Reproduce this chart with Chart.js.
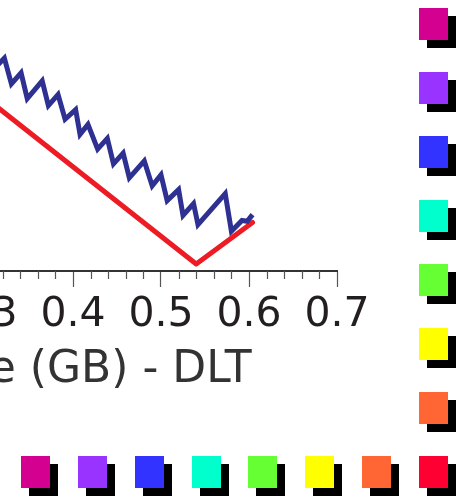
<!DOCTYPE html>
<html>
<head>
<meta charset="utf-8">
<script src="https://cdn.jsdelivr.net/npm/chart.js@4.4.0/dist/chart.umd.min.js"></script>
<style>
    html, body { margin: 0; width: 462px; height: 496px; overflow: hidden; background: #fff; }
    body { position: relative; }
    #wrap { position: absolute; left: 0; top: 0; }
    .key { position: absolute; width: 29px; height: 32px; box-shadow: 8px 8px 0 #000; }
</style>
</head>
<body>
<div id="wrap"><canvas id="myChart" width="696" height="420"></canvas></div>
<script>
// x axis (GB)
const xMin = 0, xMax = 0.7, xStep = 0.1, minorStep = 0.02;

// measured DLT run (zigzag)
const measuredSize = [0.309, 0.322, 0.330, 0.341, 0.348, 0.365, 0.372, 0.383, 0.391, 0.403,
    0.408, 0.417, 0.428, 0.439, 0.446, 0.457, 0.464, 0.481, 0.490, 0.500,
    0.507, 0.520, 0.525, 0.537, 0.542, 0.573, 0.580, 0.592, 0.598, 0.604];
const measuredTime = [74.9, 79.3, 69.7, 73.8, 64.2, 70.8, 61.6, 65.7, 56.5, 60.1,
    50.9, 54.6, 45.4, 49.4, 39.9, 43.9, 34.7, 41.0, 31.7, 35.8,
    26.2, 30.3, 20.7, 25.1, 17.3, 28.8, 14.8, 18.8, 18.5, 21.0];

// model line
const modelSize = [0.204, 0.540, 0.604];
const modelTime = [89.5, 2.6, 18.1];

// legend keys
const keyColors = ['#d4008f', '#9933ff', '#3333ff', '#00ffcc', '#66ff33', '#ffff00', '#ff6633', '#ff0033'];

const minorTicks = {
    id: 'minorTicks',
    afterDraw(chart) {
        const sx = chart.scales.x
        const ctx = chart.ctx
        const y = chart.chartArea.bottom
        ctx.save()
        ctx.strokeStyle = '#555'
        ctx.lineWidth = 1.2
        const n = Math.round((xMax - xMin) / minorStep)
        for (let i = 0; i <= n; i++) {
            if (i % 5 === 0) continue
            const x = Math.round(sx.getPixelForValue(xMin + i * minorStep)) + 0.5
            ctx.beginPath()
            ctx.moveTo(x, y)
            ctx.lineTo(x, y + 8)
            ctx.stroke()
        }
        ctx.restore()
    }
}

const chart = new Chart('myChart', {
    type: 'line',
    data: {
        datasets: [{
            data: measuredSize.map((s, i) => ({x: s, y: measuredTime[i]})),
            borderColor: '#2e3192',
            borderWidth: 5,
            pointRadius: 0,
            tension: 0
        }, {
            data: modelSize.map((s, i) => ({x: s, y: modelTime[i]})),
            borderColor: '#ed1c24',
            borderWidth: 5,
            borderJoinStyle: 'round',
            borderCapStyle: 'round',
            pointRadius: 0,
            tension: 0
        }]
    },
    options: {
        responsive: false,
        maintainAspectRatio: false,
        animation: false,
        layout: { padding: { left: 40, right: 40, top: 0, bottom: 0 } },
        plugins: { legend: { display: false }, tooltip: { enabled: false } },
        scales: {
            x: {
                type: 'linear',
                min: xMin,
                max: xMax,
                grid: { drawOnChartArea: false, tickLength: 16, tickColor: '#555', tickWidth: 1.2 },
                border: { color: '#333', width: 2 },
                ticks: {
                    stepSize: xStep,
                    autoSkip: false,
                    maxRotation: 0,
                    padding: 4,
                    color: '#231f20',
                    font: { family: 'DejaVu Sans', size: 41 },
                    callback: v => v.toFixed(1)
                },
                title: {
                    display: true,
                    text: 'Data Size (GB) - DLT',
                    color: '#333',
                    font: { family: 'DejaVu Sans', size: 44 },
                    padding: { top: 0, bottom: 4 }
                }
            },
            y: { display: false, min: 0, max: 100 }
        }
    },
    plugins: [minorTicks]
});

// size the plot area to 271px high, then place 0.4 and the axis line
const wrap = document.getElementById('wrap')
const extra = 420 - chart.chartArea.height
chart.resize(80 + (xMax - xMin) * 880, 271 + extra)
wrap.style.left = (72.7 - chart.scales.x.getPixelForValue(0.4)) + 'px'
wrap.style.top = (271 - chart.chartArea.bottom) + 'px'

keyColors.forEach((c, i) => {
    addKey(419, 8 + i * 64, c)
    if (i < keyColors.length - 1) addKey(Math.round(21 + i * 56.86), 456, c)
})

function addKey(x, y, color) {
    const d = document.createElement('div')
    d.className = 'key'
    d.style.left = x + 'px'
    d.style.top = y + 'px'
    d.style.background = color
    document.body.appendChild(d)
}
</script>
</body>
</html>
